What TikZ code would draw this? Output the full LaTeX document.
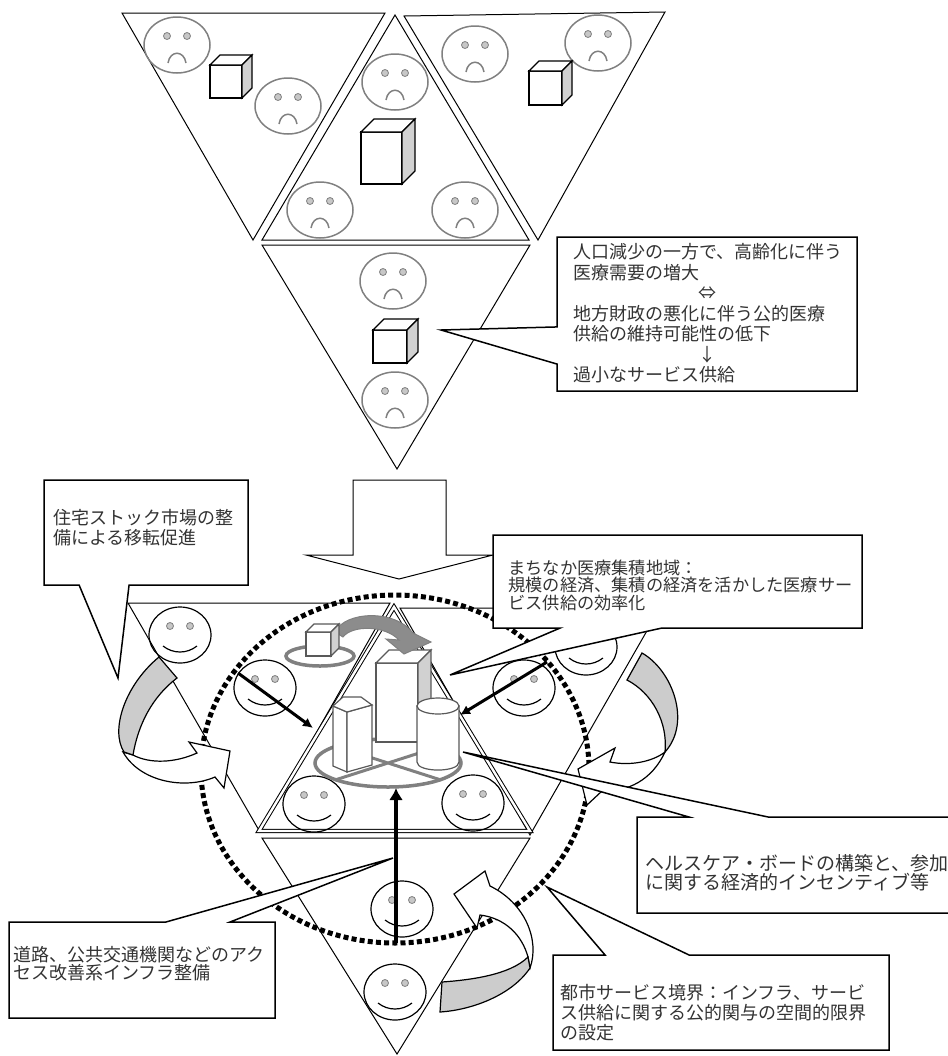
\documentclass[tikz,border=0pt]{standalone}
\usepackage{fontspec}
\setmainfont{Noto Sans CJK JP}
\usetikzlibrary{arrows.meta,calc,positioning}
\definecolor{facegray}{gray}{0.5}
\definecolor{eyegray}{gray}{0.78}
\definecolor{sidegray}{gray}{0.82}
\definecolor{ribbongray}{gray}{0.8}
\definecolor{bandgray}{gray}{0.55}
\definecolor{inkgray}{gray}{0.2}
\newcommand{\thinw}{0.5pt}
\newcommand{\boxw}{0.75pt}

\tikzset{
  tri/.style={draw, line width=\thinw},
  sadline/.style={draw=facegray, line width=0.75pt},
  smileline/.style={draw=black, line width=0.6pt},
  eyedot/.style={draw=facegray, fill=eyegray, line width=0.4pt},
  bldg/.style={draw=black!65, fill=white, line width=0.6pt},
  bldgside/.style={draw=black!65, fill=sidegray, line width=0.6pt},
  graybase/.style={draw=facegray, line width=1.75pt},
  ringline/.style={line width=2.5pt, dash pattern=on 2.5pt off 1.6pt},
  ribbon/.style={draw, fill=white, line width=0.6pt},
  ribbonback/.style={draw, fill=ribbongray, line width=0.6pt},
  feed/.style={line width=1.5pt, -{Latex[length=5pt,width=5pt]}},
  callout/.style={draw, fill=white, line width=\boxw},
  boxarea/.style={inner sep=0pt, outer sep=0pt},
  calltext/.style={inner sep=0pt, align=left, text=inkgray,
    font=\fontsize{9}{10}\selectfont}
}

% sad face, gray
\newcommand{\sadface}[2]{%
  \draw[sadline] (#1,#2) ellipse [x radius=33, y radius=28];
  \filldraw[eyedot] ({#1-10},{#2-9}) circle [radius=3.5] ({#1+10},{#2-9}) circle [radius=3.5];
  \draw[sadline] ({#1-9},{#2+18}) .. controls ({#1-7},{#2+5}) and ({#1+7},{#2+5}) .. ({#1+9},{#2+18});}
% smiling face, black
\newcommand{\smiley}[2]{%
  \draw[smileline] (#1,#2) ellipse [x radius=31, y radius=28];
  \filldraw[eyedot] ({#1-10},{#2-9}) circle [radius=3.5] ({#1+10},{#2-9}) circle [radius=3.5];
  \draw[smileline] ({#1-17},{#2+11}) .. controls ({#1-7},{#2+19}) and ({#1+7},{#2+19}) .. ({#1+17},{#2+11});}
% box: [outline] x y width height depth
\newcommand{\blockcube}[6][black]{%
  \filldraw[draw=#1, fill=white, line width=0.6pt] (#2,#3) rectangle ({#2+#4},{#3+#5});
  \filldraw[draw=#1, fill=white, line width=0.6pt] (#2,#3) -- ({#2+#6},{#3-#6}) -- ({#2+#4+#6},{#3-#6}) -- ({#2+#4},#3) -- cycle;
  \filldraw[draw=#1, fill=sidegray, line width=0.6pt] ({#2+#4},#3) -- ({#2+#4+#6},{#3-#6}) -- ({#2+#4+#6},{#3+#5-#6}) -- ({#2+#4},{#3+#5}) -- cycle;}

\begin{document}
\begin{tikzpicture}[x=0.5pt, y=-0.5pt]
\useasboundingbox (0,0) rectangle (948,1056);
\clip (0,0) rectangle (948,1056);

% upper cluster
\draw[tri] (122,13) -- (385,13) -- (253,240) -- cycle;
\draw[tri] (395,15) -- (529,240) -- (262,240) -- cycle;
\draw[tri] (404,16) -- (665,12) -- (538,240) -- cycle;
\draw[tri] (262,245) -- (530,245) -- (397,469) -- cycle;
\sadface{177}{45}
\sadface{288}{106}
\sadface{395}{82}
\sadface{320}{210}
\sadface{465}{210}
\sadface{475}{54}
\sadface{598}{43}
\sadface{393}{281}
\sadface{395}{400}
\blockcube{210}{65}{32}{33}{10}
\blockcube{361}{132}{41}{52}{13}
\blockcube{529}{71}{33}{34}{10}
\blockcube{373}{330}{34}{33}{11}

\node[boxarea, minimum width=150pt, minimum height=77pt] (needbox) at (707,314) {};
\coordinate (needtip) at (441,330);
\draw[callout] (needbox.north west) -- (needbox.north east) -- (needbox.south east)
  -- (needbox.south west) -- ($(needbox.south west)!0.175!(needbox.north west)$)
  -- (needtip) -- ($(needbox.south west)!0.416!(needbox.north west)$) -- cycle;
\node[calltext, text width=134pt, font=\fontsize{9}{10.25}\selectfont,
  right=8pt of needbox.west, yshift=0.25pt] (needtext)
  {人口減少の一方で、高齢化に伴う\\医療需要の増大\\\makebox[\linewidth]{⇔}\\
   地方財政の悪化に伴う公的医療\\供給の維持可能性の低下\\\makebox[\linewidth]{↓}\\過小なサービス供給};

% shift downwards
\draw[tri, fill=white] (353,480) -- (446,480) -- (446,555) -- (493,555) -- (399,579)
  -- (306,555) -- (353,555) -- cycle;

% lower cluster
\draw[tri] (128,603) -- (390,603) -- (260,832) -- cycle;
\draw[tri] (400,608) -- (660,608) -- (530,835) -- cycle;
\draw[tri] (262,838) -- (530,838) -- (397,1054) -- cycle;
\draw[tri, double, double distance=1.2pt] (394,607) -- (530,831) -- (259,831) -- cycle;

\draw[ringline] (395,769) ellipse [x radius=194, y radius=174];

\smiley{180}{635}
\smiley{265}{688}
\smiley{314}{804}
\smiley{473}{803}
\smiley{524}{688}
\smiley{586}{647}
\smiley{402}{909}
\smiley{395}{992}

% clustered facilities
\draw[graybase] (388,763) ellipse [x radius=73, y radius=24];
\draw[graybase, line width=1.5pt] (335,746) -- (441,780) (335,780) -- (441,746);
\blockcube[black!65]{376}{663}{42}{79}{13}
\filldraw[bldg] (333,706) -- (347,712) -- (347,772) -- (333,766) -- cycle;
\filldraw[bldg] (347,712) -- (372,705) -- (372,765) -- (347,772) -- cycle;
\filldraw[bldg] (333,706) -- (343,697) -- (361,697) -- (372,705) -- (347,712) -- cycle;
\filldraw[bldg] (417,706) -- (417,762) .. controls (417,772.7) and (459,772.7) .. (459,762) -- (459,706) -- cycle;
\filldraw[bldg] (438,706) ellipse [x radius=21, y radius=8];
\filldraw[draw=facegray, fill=bandgray, line width=0.5pt] (335,632) .. controls (345,611) and (395,609) .. (413,633)
  -- (431,642) -- (404,654) -- (386,639) -- (399,640) .. controls (385,625) and (352,625) .. (343,637) -- cycle;
\draw[graybase] (320,656) ellipse [x radius=34, y radius=10];
\blockcube[black!65]{306}{632}{25}{24}{8}

\coordinate (ringW) at (238,673);
\coordinate (hubW) at (313,728);
\coordinate (ringE) at (547,662);
\coordinate (hubE) at (460,715);
\coordinate (ringS) at (396,943);
\coordinate (hubS) at (396,788);
\draw[feed] (ringW) -- (hubW);
\draw[feed] (ringE) -- (hubE);
\draw[feed, line width=2pt, -{Latex[length=6pt,width=7pt]}] (ringS) -- (hubS);

% relocation ribbons
\path[ribbon] (197,753) -- (189,742) -- (230,751) -- (224,788) -- (215,777)
  .. controls (185,790) and (140,782) .. (123,752) -- (133,755)
  .. controls (150,764) and (175,763) .. (197,753) -- cycle;
\path[ribbonback] (159,657) .. controls (125,685) and (110,730) .. (124,752) -- (133,755)
  .. controls (138,725) and (152,697) .. (177,678) -- cycle;
\path[ribbon] (610,762) -- (615,748) -- (578,769) -- (587,805) -- (602,791)
  .. controls (628,792) and (652,780) .. (665,752)
  .. controls (652,762) and (630,766) .. (610,762) -- cycle;
\path[ribbonback] (642,653) .. controls (672,670) and (692,722) .. (665,752)
  .. controls (668,722) and (652,693) .. (627,680) -- cycle;
\path[ribbon] (530,968) .. controls (540,940) and (525,903) .. (490,886) -- (485,871)
  -- (454,894) -- (477,928) -- (480,915) .. controls (505,918) and (522,935) .. (528,957) -- cycle;
\path[ribbonback] (442,982) .. controls (470,980) and (510,975) .. (528,957) -- (530,968)
  .. controls (512,995) and (472,1010) .. (440,1012) -- cycle;

% callouts
\node[boxarea, minimum width=102pt, minimum height=52.5pt] (housebox) at (146,532.5) {};
\coordinate (housetip) at (118,678);
\draw[callout] (housebox.north west) -- (housebox.north east) -- (housebox.south east)
  -- ($(housebox.south west)!0.417!(housebox.south east)$) -- (housetip)
  -- ($(housebox.south west)!0.172!(housebox.south east)$) -- (housebox.south west) -- cycle;
\node[calltext, right=4.5pt of housebox.west, yshift=2.25pt] (housetext)
  {住宅ストック市場の整\\備による移転促進};

\node[boxarea, minimum width=184.5pt, minimum height=46.5pt] (corebox) at (677.5,581.5) {};
\coordinate (coretip) at (450,675);
\draw[callout] (corebox.north west) -- (corebox.north east) -- (corebox.south east)
  -- ($(corebox.south west)!0.458!(corebox.south east)$) -- (coretip)
  -- ($(corebox.south west)!0.182!(corebox.south east)$) -- (corebox.south west) -- cycle;
\node[calltext, font=\fontsize{8.6}{8.75}\selectfont,
  right=7.5pt of corebox.west, yshift=-1.75pt] (coretext)
  {まちなか医療集積地域：\\規模の経済、集積の経済を活かした医療サー\\ビス供給の効率化};

\node[boxarea, minimum width=161.5pt, minimum height=48pt] (boardbox) at (798.5,865) {};
\coordinate (boardtip) at (463,752);
\draw[callout] (boardbox.north west) -- ($(boardbox.north west)!0.161!(boardbox.north east)$)
  -- (boardtip) -- ($(boardbox.north west)!0.406!(boardbox.north east)$)
  -- (boardbox.north east) -- (boardbox.south east) -- (boardbox.south west) -- cycle;
\node[calltext, font=\fontsize{9.5}{9.5}\selectfont,
  right=4pt of boardbox.west, yshift=-3.75pt] (boardtext)
  {ヘルスケア・ボードの構築と、参加\\に関する経済的インセンティブ等};

\node[boxarea, minimum width=168pt, minimum height=47.5pt] (edgebox) at (721,1002.5) {};
\coordinate (edgetip) at (547,887);
\draw[callout] (edgebox.north west) -- ($(edgebox.north west)!0.155!(edgebox.north east)$)
  -- (edgetip) -- ($(edgebox.north west)!0.405!(edgebox.north east)$)
  -- (edgebox.north east) -- (edgebox.south east) -- (edgebox.south west) -- cycle;
\node[calltext, right=3.5pt of edgebox.west, yshift=-5.25pt] (edgetext)
  {都市サービス境界：インフラ、サービ\\ス供給に関する公的関与の空間的限界\\の設定};

\node[boxarea, minimum width=133pt, minimum height=48pt] (roadbox) at (142,970) {};
\coordinate (roadtip) at (393,858);
\draw[callout] (roadbox.north west) -- ($(roadbox.north west)!0.590!(roadbox.north east)$)
  -- (roadtip) -- ($(roadbox.north west)!0.831!(roadbox.north east)$)
  -- (roadbox.north east) -- (roadbox.south east) -- (roadbox.south west) -- cycle;
\node[calltext, font=\fontsize{9}{9}\selectfont,
  right=2pt of roadbox.west, yshift=3pt] (roadtext)
  {道路、公共交通機関などのアク\\セス改善系インフラ整備};
\end{tikzpicture}
\end{document}
